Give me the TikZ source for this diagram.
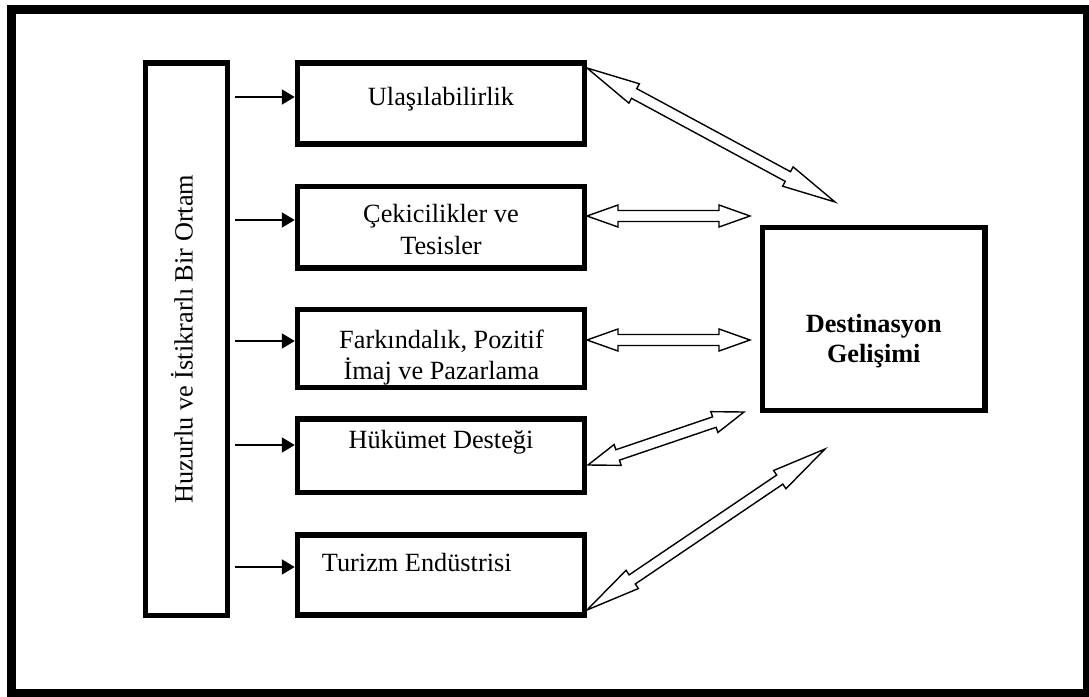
\documentclass[tikz,border=0pt]{standalone}
\usepackage{fontspec}
\setmainfont{Liberation Serif}
\usetikzlibrary{arrows.meta,calc}

\tikzset{
  frame/.style={line width=9pt},
  box/.style={draw, line width=5.5pt, inner sep=0pt},
  lbl/.style={font=\fontsize{26.3}{31.6}\selectfont, inner sep=0pt, anchor=base},
  feed/.style={line width=2pt, -{Triangle[length=13pt,width=15pt]}},
  hollow/.style={draw, fill=white, line width=1.4pt, line join=miter},
}

% Outlined two-headed block arrow between two named points
\newcommand\blockarrow[2]{%
  \pgfpointdiff{\pgfpointanchor{#1}{center}}{\pgfpointanchor{#2}{center}}%
  \pgfgetlastxy\arx\ary
  \pgfmathsetmacro\arang{atan2(\ary,\arx)}%
  \pgfmathsetmacro\arlen{veclen(\arx,\ary)}%
  \pgfmathsetmacro\arhead{0.19*\arlen}%
  \pgfmathsetmacro\arback{\arlen-\arhead}%
  \begin{scope}[shift={(#1)}, rotate=\arang]
    \path[hollow] (0pt,0pt) -- (\arhead pt,11pt) -- (\arhead pt,5.5pt)
      -- (\arback pt,5.5pt) -- (\arback pt,11pt) -- (\arlen pt,0pt)
      -- (\arback pt,-11pt) -- (\arback pt,-5.5pt) -- (\arhead pt,-5.5pt)
      -- (\arhead pt,-11pt) -- cycle;
  \end{scope}}

\begin{document}
\begin{tikzpicture}[x=1pt, y=-1pt]
  \useasboundingbox (0,0) rectangle (1089,696);

  % outer frame
  \draw[frame] (11.5,9.5) rectangle (1087.5,693.5);

  % boxes
  \node[box, minimum width=82pt, minimum height=552.5pt] (env) at (186.5,339.25) {};
  \node[box, minimum width=287pt, minimum height=81pt] (ulas) at (441,103.5) {};
  \node[box, minimum width=287pt, minimum height=81.5pt] (cek) at (441,227.25) {};
  \node[box, minimum width=287pt, minimum height=78pt] (fark) at (441,348.5) {};
  \node[box, minimum width=287pt, minimum height=73.5pt] (huk) at (441,455.75) {};
  \node[box, minimum width=287pt, minimum height=80pt] (tur) at (441,575) {};
  \node[box, minimum width=222.5pt, minimum height=183pt] (dest) at (873.75,319) {};

  % labels
  \node[lbl, rotate=90] (envt) at (192.5,339) {Huzurlu ve İstikrarlı Bir Ortam};
  \node[lbl] (ulast) at (441,105) {Ulaşılabilirlik};
  \node[lbl] (cekt1) at (441,222.7) {Çekicilikler ve};
  \node[lbl] (cekt2) at (441,254.3) {Tesisler};
  \node[lbl] (farkt1) at (441.5,348.3) {Farkındalık, Pozitif};
  \node[lbl] (farkt2) at (441.5,379.3) {İmaj ve Pazarlama};
  \node[lbl] (hukt) at (441,448.3) {Hükümet Desteği};
  \node[lbl, anchor=base west] (turt) at (321.7,571.7) {Turizm Endüstrisi};
  \node[lbl, font=\fontsize{26.3}{31.6}\selectfont\bfseries] (destt1) at (873.75,332.7) {Destinasyon};
  \node[lbl, font=\fontsize{26.3}{31.6}\selectfont\bfseries] (destt2) at (873.75,362.7) {Gelişimi};

  % feeding arrows from the left column
  \coordinate (f1) at (235,97);
  \coordinate (f2) at (235,220);
  \coordinate (f3) at (235,341);
  \coordinate (f4) at (235,445);
  \coordinate (f5) at (235,567);
  \draw[feed] (f1) -- (f1 -| ulas.west);
  \draw[feed] (f2) -- (f2 -| cek.west);
  \draw[feed] (f3) -- (f3 -| fark.west);
  \draw[feed] (f4) -- (f4 -| huk.west);
  \draw[feed] (f5) -- (f5 -| tur.west);

  % two-way links towards the development box
  \coordinate (a1s) at (587,68);   \coordinate (a1e) at (835,202);
  \coordinate (a2s) at (587,216);  \coordinate (a2e) at (750,216);
  \coordinate (a3s) at (587,340);  \coordinate (a3e) at (750,340);
  \coordinate (a4s) at (588,465);  \coordinate (a4e) at (744,412);
  \coordinate (a5s) at (587,610);  \coordinate (a5e) at (825,449);
  \blockarrow{a1s}{a1e}
  \blockarrow{a2s}{a2e}
  \blockarrow{a3s}{a3e}
  \blockarrow{a4s}{a4e}
  \blockarrow{a5s}{a5e}
\end{tikzpicture}
\end{document}
